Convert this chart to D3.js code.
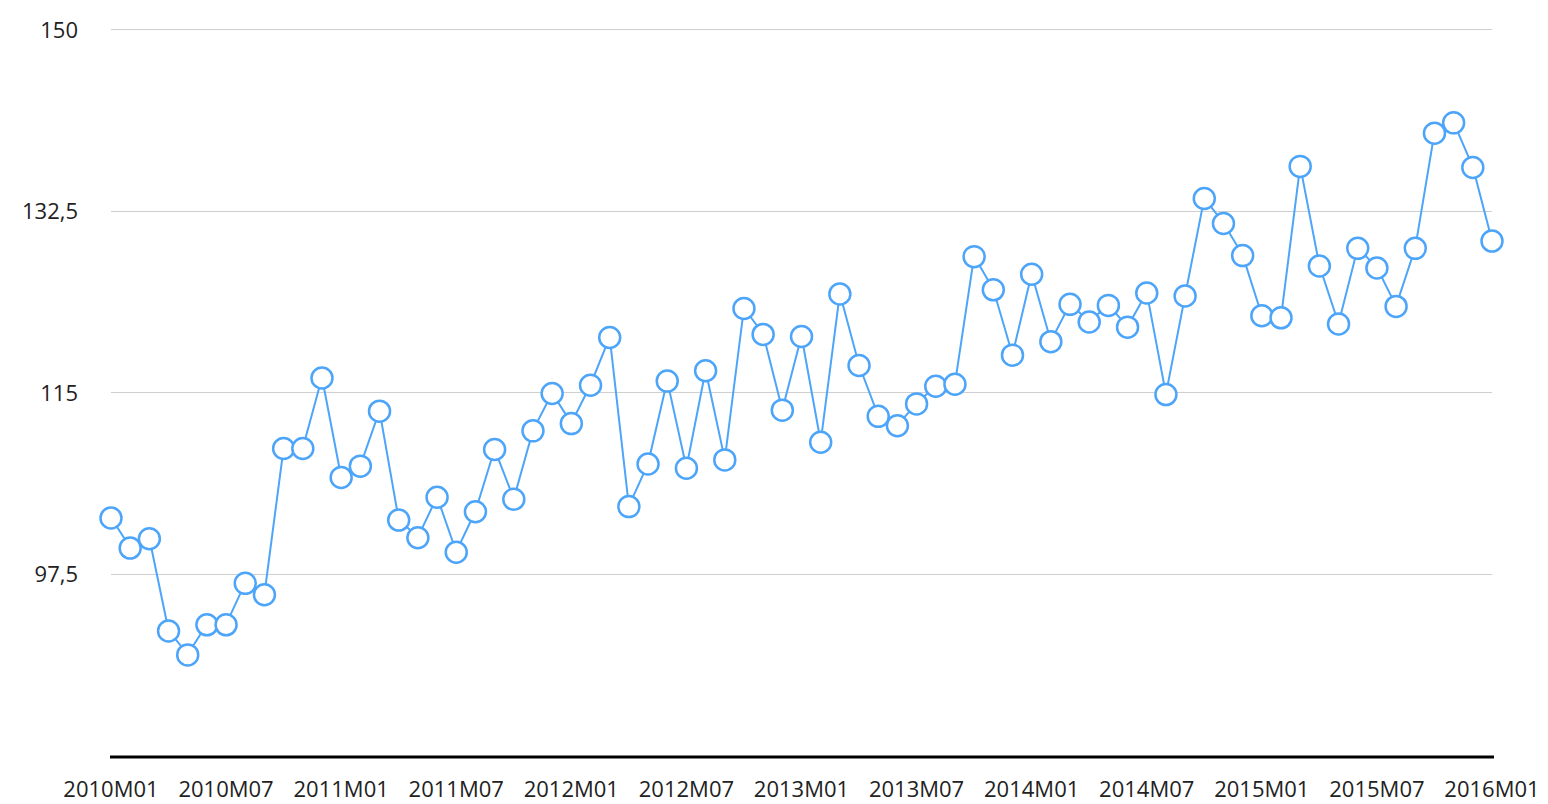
<!DOCTYPE html>
<html>
<head>
<meta charset="utf-8">
<script src="https://cdn.jsdelivr.net/npm/d3@7"></script>
<style>
  body { margin: 0; background: #fff; }
  text { font-family: "Open Sans", sans-serif; fill: #222; }
</style>
</head>
<body>
<svg width="1548" height="804"></svg>
<script>
// Datos: índice mensual 2010M01 - 2016M01
const years = [2010, 2011, 2012, 2013, 2014, 2015, 2016];
const values = [
  102.9, 100.0, 100.9, 92.0, 89.7, 92.6, 92.6, 96.6, 95.5, 109.6, 109.6, 116.4,
  106.8, 107.9, 113.2, 102.7, 101.0, 104.9, 99.6, 103.5, 109.5, 104.7, 111.3, 114.9,
  112.0, 115.7, 120.3, 104.0, 108.1, 116.1, 107.7, 117.1, 108.5, 123.1, 120.6, 113.3,
  120.4, 110.2, 124.5, 117.6, 112.7, 111.8, 113.9, 115.6, 115.8, 128.1, 124.9, 118.6,
  126.4, 119.9, 123.5, 121.8, 123.4, 121.3, 124.6, 114.8, 124.3, 133.7, 131.3, 128.2,
  122.4, 122.2, 136.8, 127.2, 121.6, 128.9, 127.0, 123.3, 128.9, 140.0, 141.0, 136.7,
  129.6
];
const yTicks = [97.5, 115, 132.5, 150];

// Etiquetas de meses: 2010M01, 2010M02, ...
const months = values.map((v, i) => {
  const yr = years[0] + Math.floor(i / 12);
  const m = (i % 12) + 1;
  return yr + 'M' + (m < 10 ? '0' + m : m);
});
const xTickLabels = months.filter((d, i) => i % 6 === 0);

const svg = d3.select('svg');
const mLeft = 111, mRight = 1492, mTop = 29, mBottom = 755;

const x = d3.scalePoint().domain(months).range([mLeft, mRight]);
const y = d3.scaleLinear().domain([80, 150]).range([mBottom, mTop]);

// Líneas de la cuadrícula
svg.append('g')
  .selectAll('line')
  .data(yTicks)
  .join('line')
  .attr('x1', mLeft)
  .attr('x2', mRight)
  .attr('y1', d => Math.round(y(d)) + 0.5)
  .attr('y2', d => Math.round(y(d)) + 0.5)
  .attr('stroke', '#cfcfcf')
  .attr('stroke-width', 1);

// Etiquetas eje Y (coma decimal)
const fmt = d => String(d).replace('.', ',');
svg.append('g')
  .selectAll('text')
  .data(yTicks)
  .join('text')
  .attr('x', 78)
  .attr('y', d => y(d) + 1)
  .attr('dy', '0.35em')
  .attr('text-anchor', 'end')
  .style('font-size', '22px')
  .text(fmt);

// Eje X
svg.append('line')
  .attr('x1', mLeft - 1)
  .attr('x2', mRight + 2)
  .attr('y1', 757)
  .attr('y2', 757)
  .attr('stroke', '#000')
  .attr('stroke-width', 3);

svg.append('g')
  .selectAll('text')
  .data(xTickLabels)
  .join('text')
  .attr('x', d => x(d))
  .attr('y', 797)
  .attr('text-anchor', 'middle')
  .style('font-size', '22px')
  .text(d => d);

// Serie
const line = d3.line()
  .x((d, i) => x(months[i]))
  .y(d => y(d));

svg.append('path')
  .datum(values)
  .attr('d', line)
  .attr('fill', 'none')
  .attr('stroke', '#4da5fa')
  .attr('stroke-width', 2);

svg.append('g')
  .selectAll('circle')
  .data(values)
  .join('circle')
  .attr('cx', (d, i) => x(months[i]))
  .attr('cy', d => y(d) + 0.5)
  .attr('r', 10.5)
  .attr('fill', '#fff')
  .attr('stroke', '#4da5fa')
  .attr('stroke-width', 2.5);
</script>
</body>
</html>
